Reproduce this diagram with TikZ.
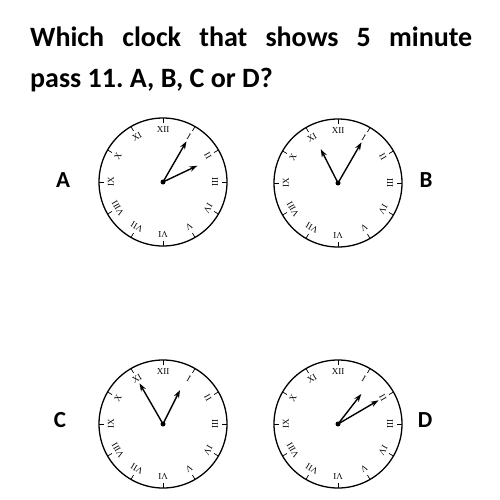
\documentclass[tikz,border=0pt]{standalone}
\usepackage{fontspec}
\setmainfont{Carlito}
\newfontfamily\numfont{Liberation Serif}
\usetikzlibrary{arrows.meta}
\frenchspacing
\begin{document}
\begin{tikzpicture}[x=1pt, y=1pt,
  face/.style={draw, line width=1.3pt, circle, minimum size=128pt, inner sep=0pt},
  hand/.style={line width=1.4pt, -{Stealth[length=8pt, width=5.5pt]}},
  numeral/.style={font=\numfont\fontsize{9}{9}\selectfont, inner sep=0pt},
  letter/.style={font=\bfseries\fontsize{23}{24}\selectfont}]
  \useasboundingbox (0,0) rectangle (500,-500);

  \node[anchor=base west, inner sep=0pt, font=\bfseries\fontsize{28}{34}\selectfont] (title) at (30,-47)
  {\makebox[442pt][s]{Which clock that shows 5 minute}};
  \node[anchor=base west, inner sep=0pt, font=\bfseries\fontsize{28}{34}\selectfont] (title-2) at (30,-88)
  {pass 11. A, B, C or D?};

  % clocks: name / centre / minute hand angle / hour hand angle
  \foreach \c/\x/\y/\m/\hr in {A/163/-182/60/25.4, B/338/-183/60/117,
                               C/163/-424/120/63.4, D/338/-424/30.3/52.2} {
    \node[face] (\c) at (\x,\y) {};
    \foreach \h/\r in {1/I,2/II,3/III,4/IV,5/V,6/VI,7/VII,8/VIII,9/IX,10/X,11/XI,12/XII} {
      \node[numeral, rotate=-30*\h] (\c-\h) at ([shift={(90-30*\h:52)}]\c.center) {\r};
      \draw[line width=0.7pt] ([shift={(90-30*\h:59)}]\c.center) -- ([shift={(90-30*\h:64)}]\c.center);
    }
    \coordinate (\c-min) at ([shift={(\m:47)}]\c.center);
    \coordinate (\c-hour) at ([shift={(\hr:38)}]\c.center);
    \draw[hand] (\c.center) -- (\c-min);
    \draw[hand] (\c.center) -- (\c-hour);
    \fill (\c.center) circle (2.5pt);
  }

  \node[letter] (label-A) at (63,-180) {A};
  \node[letter] (label-B) at (426,-180) {B};
  \node[letter] (label-C) at (60,-420) {C};
  \node[letter] (label-D) at (425,-420) {D};
\end{tikzpicture}
\end{document}
